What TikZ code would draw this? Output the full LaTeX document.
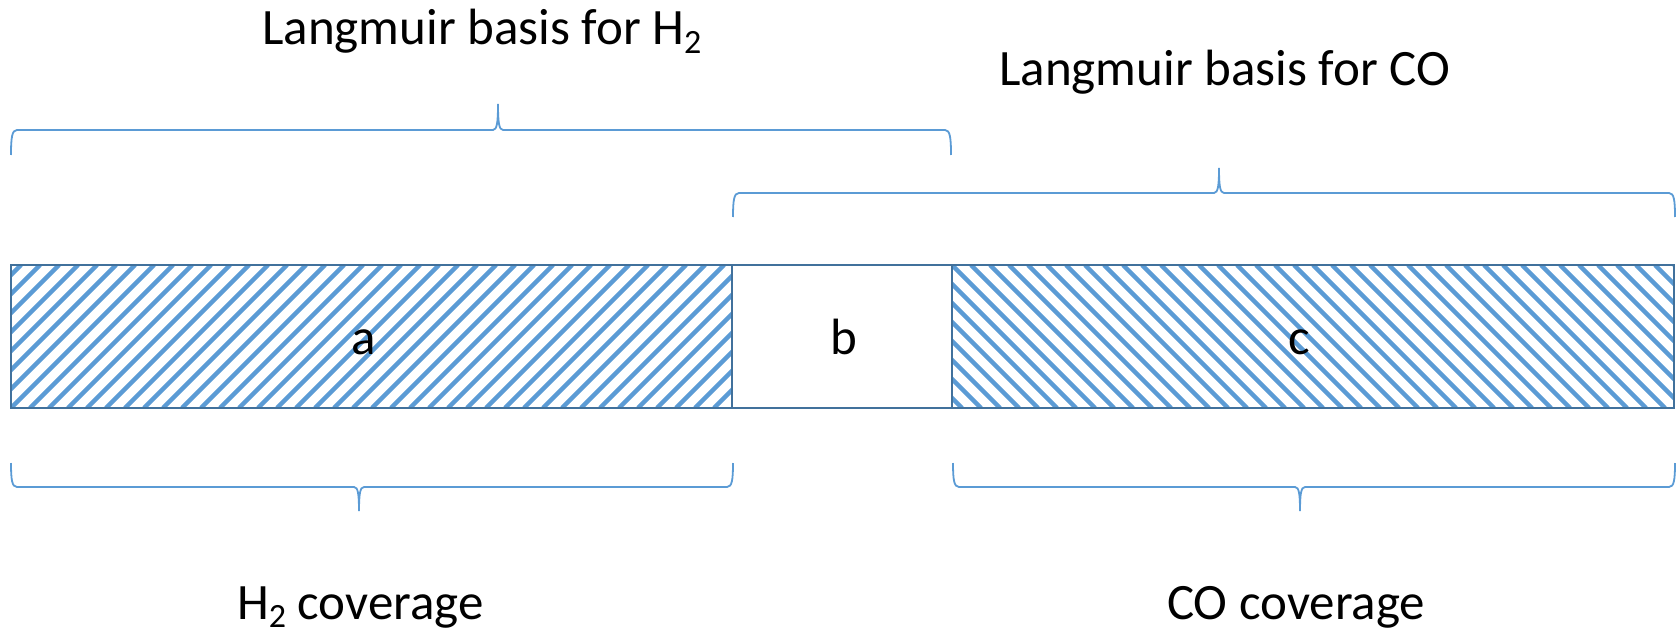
\documentclass[tikz,border=0pt]{standalone}
\usepackage{fontspec}
\setmainfont{Carlito}
\definecolor{hatchblue}{HTML}{5B9BD5}
\definecolor{edgeblue}{HTML}{41719C}
\newcommand\subtwo{\raisebox{-0.17em}{\fontsize{34}{34}\selectfont 2}}
% x0 x1 tip yend yline ytip
\newcommand\bracedraw[6]{%
  \draw[bracestyle] (#1,#4) .. controls (#1,{#5+(#4-#5)*0.3}) and ({#1+1},#5) .. ({#1+6},#5)
    -- ({#3-5},#5) .. controls ({#3-1},#5) and (#3,{#5+(#6-#5)*0.3}) .. (#3,#6)
    .. controls (#3,{#5+(#6-#5)*0.3}) and ({#3+1},#5) .. ({#3+5},#5)
    -- ({#2-6},#5) .. controls ({#2-1},#5) and (#2,{#5+(#4-#5)*0.3}) .. (#2,#4);}
\begin{document}
\begin{tikzpicture}[x=1pt,y=-1pt,
  labeltext/.style={font=\fontsize{51}{60}\selectfont, inner sep=0pt},
  hatchline/.style={draw=hatchblue, line width=4.5pt},
  baredge/.style={draw=edgeblue, line width=2.8pt},
  bracestyle/.style={draw=hatchblue, line width=1.8pt}]
\useasboundingbox (0,0) rectangle (1680,636);
% hatch a
\begin{scope}
  \clip (11,265) rectangle (732,408);
  \foreach \k in {-160,-141,...,740} \draw[hatchline] (\k,408) -- ({\k+143},265);
\end{scope}
% hatch c
\begin{scope}
  \clip (952,265) rectangle (1674,408);
  \foreach \k in {800,819,...,1690} \draw[hatchline] (\k,265) -- ({\k+143},408);
\end{scope}
% bar outlines
\draw[baredge] (11,265) rectangle (732,408);
\draw[baredge] (732,265) rectangle (952,408);
\draw[baredge] (952,265) rectangle (1674,408);
% labels in bar
\node[labeltext, anchor=base] (a) at (364,354) {a};
\node[labeltext, anchor=base] (b) at (844,354) {b};
\node[labeltext, anchor=base] (c) at (1299,354) {c};
% braces
\bracedraw{11}{951}{498}{155}{130}{104}
\bracedraw{733}{1675}{1219}{217}{193}{168}
\bracedraw{11}{733}{359}{463}{487}{511}
\bracedraw{953}{1675}{1300}{463}{487}{511}
% texts
\node[labeltext, anchor=base west] (lh) at (262,45) {Langmuir basis for H\subtwo};
\node[labeltext, anchor=base west] (lc) at (999,86) {Langmuir basis for CO};
\node[labeltext, anchor=base west] (ch) at (237,619) {H\subtwo{} coverage};
\node[labeltext, anchor=base west] (cc) at (1167,619) {CO coverage};
\end{tikzpicture}
\end{document}
